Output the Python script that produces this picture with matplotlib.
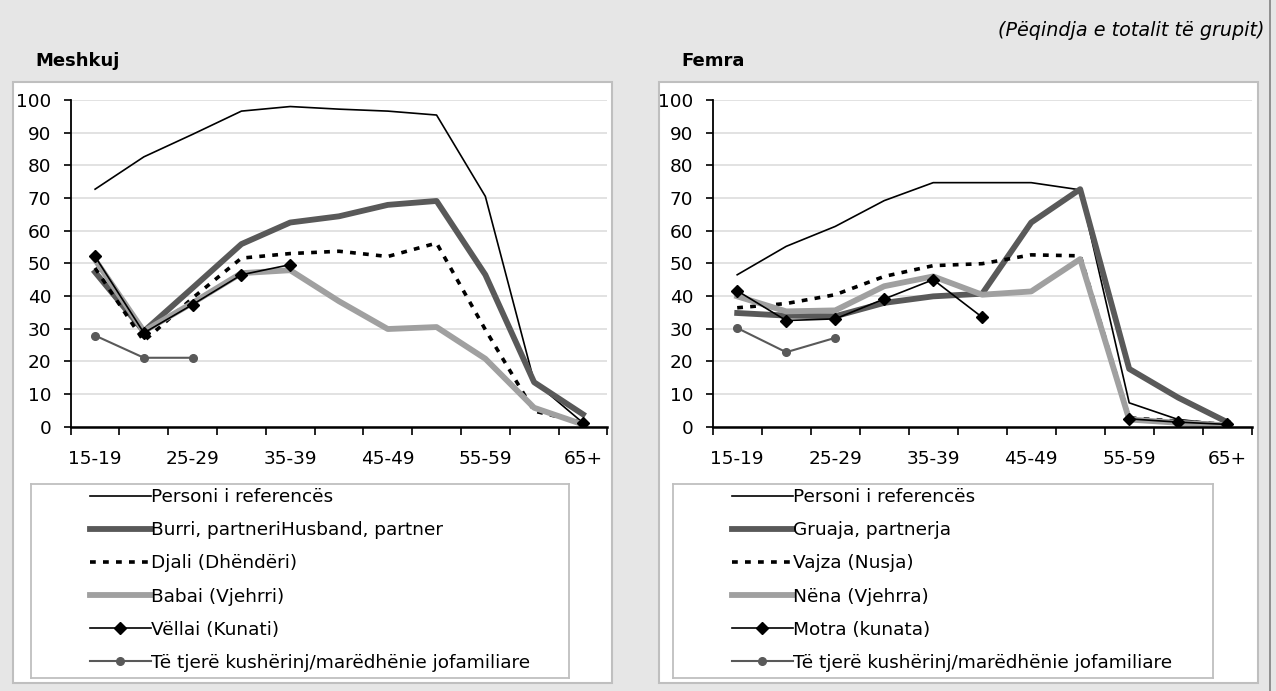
import matplotlib.pyplot as plt
import numpy as np
from matplotlib.patches import Rectangle

plt.rcParams['font.family'] = ['DejaVu Sans']

age_groups = ['15-19', '20-24', '25-29', '30-34', '35-39', '40-44',
              '45-49', '50-54', '55-59', '60-64', '65+']
nan = np.nan

# Meshkuj
m_ref = [72.7, 82.6, 89.5, 96.6, 98.0, 97.2, 96.6, 95.4, 70.5, 13.8, 1.2]
m_partner = [47.3, 29.2, 42.5, 55.9, 62.5, 64.4, 67.9, 69.1, 46.5, 13.6, 3.8]
m_child = [48.6, 26.2, 39.4, 51.6, 53.0, 53.7, 52.1, 56.2, 29.7, 4.8, 1.2]
m_parent = [51.1, 29.2, 37.9, 47.0, 47.9, 38.4, 29.9, 30.5, 20.8, 5.8, 0.7]
m_sibling = [52.1, 28.7, 37.4, 46.5, 49.6, nan, nan, nan, nan, nan, 1.2]
m_other = [27.9, 21.1, 21.1, nan, nan, nan, nan, nan, nan, nan, nan]

# Femra
f_ref = [46.5, 55.2, 61.3, 69.2, 74.7, 74.7, 74.7, 72.5, 7.3, 2.2, 0.7]
f_partner = [34.8, 34.0, 33.8, 37.9, 39.9, 40.7, 62.5, 72.7, 17.7, 8.9, 1.4]
f_child = [36.4, 37.7, 40.4, 46.0, 49.3, 49.9, 52.6, 52.3, 2.7, 1.7, 0.7]
f_parent = [39.9, 35.3, 35.6, 43.0, 46.0, 40.4, 41.4, 51.3, 2.2, 1.2, 0.4]
f_sibling = [41.6, 32.5, 33.0, 39.1, 45.0, 33.5, nan, nan, 2.4, 1.4, 0.7]
f_other = [30.2, 22.8, 27.2, nan, nan, nan, nan, nan, nan, nan, nan]

m_labels = ['Personi i referencës', 'Burri, partneriHusband, partner',
            'Djali (Dhëndëri)', 'Babai (Vjehrri)', 'Vëllai (Kunati)',
            'Të tjerë kushërinj/marëdhënie jofamiliare']
f_labels = ['Personi i referencës', 'Gruaja, partnerja', 'Vajza (Nusja)',
            'Nëna (Vjehrra)', 'Motra (kunata)',
            'Të tjerë kushërinj/marëdhënie jofamiliare']

styles = [
    dict(color='black', lw=1.2),
    dict(color='#595959', lw=4.2),
    dict(color='black', lw=2.6, linestyle=(0, (1.6, 2.0))),
    dict(color='#A0A0A0', lw=4.2),
    dict(color='black', lw=1.2, marker='D', markersize=6),
    dict(color='#595959', lw=1.5, marker='o', markersize=5.5),
]

W, H = 1276, 691
fig = plt.figure(figsize=(W / 100, H / 100), dpi=100, facecolor='#E6E6E6')


def fx(px):
    return px / W


def fy(py):
    return 1 - py / H


# outer border on the right side
fig.add_artist(plt.Line2D([fx(1270), fx(1270)], [0, 1], color='#808080', lw=1.2))

fig.text(fx(1265), fy(30), '(Pëqindja e totalit të grupit)', ha='right', va='center',
         fontsize=13.8, style='italic')

panels = [
    dict(px=13, title='Meshkuj', ax_x=70.7, ax_w=536.6, leg=(31, 569),
         series=[m_ref, m_partner, m_child, m_parent, m_sibling, m_other], labels=m_labels),
    dict(px=659, title='Femra', ax_x=712.7, ax_w=539, leg=(673, 1213),
         series=[f_ref, f_partner, f_child, f_parent, f_sibling, f_other], labels=f_labels),
]

x = np.arange(len(age_groups))

for p in panels:
    # white panel
    fig.add_artist(Rectangle((fx(p['px']), fy(683)), fx(599), (683 - 82) / H,
                             transform=fig.transFigure, facecolor='white',
                             edgecolor='#BFBFBF', lw=1.5, zorder=0))
    fig.text(fx(p['px'] + 22), fy(61), p['title'], fontsize=13, fontweight='bold',
             va='center', ha='left')

    ax = fig.add_axes([fx(p['ax_x']), fy(426.7), fx(p['ax_w']), (426.7 - 100) / H])
    ax.set_facecolor('none')
    handles = []
    for vals, st, lab in zip(p['series'], styles, p['labels']):
        h, = ax.plot(x, vals, label=lab, **st)
        handles.append(h)

    ax.set_xlim(-0.5, 10.5)
    ax.set_ylim(0, 100)
    ax.set_yticks(np.arange(0, 101, 10))
    ax.grid(axis='y', color='#DDDDDD', lw=1.2)
    ax.set_axisbelow(True)
    ax.set_xticks(np.arange(-0.5, 11, 1))
    ax.set_xticklabels([])
    ax.set_xticks(x[::2], minor=True)
    ax.set_xticklabels(age_groups[::2], minor=True)
    ax.tick_params(axis='x', which='major', length=6, width=1.2, direction='out')
    ax.tick_params(axis='x', which='minor', length=0, pad=17, labelsize=13.3)
    ax.tick_params(axis='y', length=5, width=1.2, labelsize=13.3, pad=9)
    for s in ['top', 'right']:
        ax.spines[s].set_visible(False)
    ax.spines['left'].set_linewidth(1.3)
    ax.spines['bottom'].set_linewidth(1.8)

    # legend box
    l0, l1 = p['leg']
    lax = fig.add_axes([fx(l0), fy(678), fx(l1 - l0), (678 - 484) / H])
    lax.set_xticks([])
    lax.set_yticks([])
    for s in lax.spines.values():
        s.set_color('#BFBFBF')
        s.set_linewidth(1.3)
    lax.legend(handles=handles, loc='upper left', bbox_to_anchor=(0.085, 1.045),
               frameon=False, fontsize=13.3, handlelength=3.3, handletextpad=0.0,
               labelspacing=0.82, borderaxespad=0.3)

fig.savefig('out.png', dpi=100, facecolor=fig.get_facecolor())
